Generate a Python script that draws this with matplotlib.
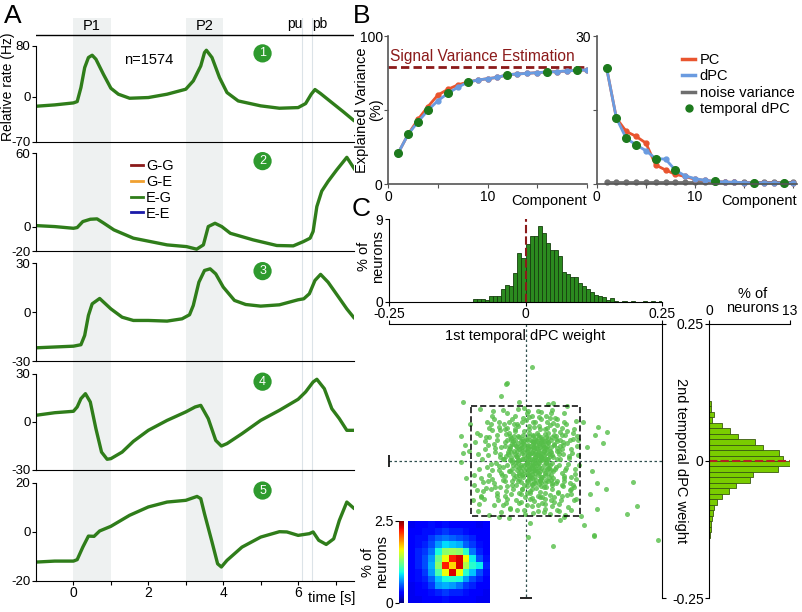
import numpy as np
import matplotlib
matplotlib.use("Agg")
from matplotlib import pyplot as plt
from matplotlib.lines import Line2D

plt.rcParams["font.family"] = ["Liberation Sans", "DejaVu Sans"]
plt.rcParams["font.size"] = 10

# ---------------- data: panel A (relative rate, Hz) ----------------
t1 = [-1, -0.5, 0, 0.1, 0.2, 0.3, 0.4, 0.5, 0.6, 0.8, 1.0, 1.2, 1.5, 2.0, 2.5, 3.0, 3.2, 3.4,
      3.5, 3.55, 3.7, 3.9, 4.1, 4.4, 5.0, 5.5, 6.0, 6.2, 6.35, 6.45, 6.6, 6.9, 7.2, 7.5]
r1 = [-14.6, -12.5, -9.4, -7.3, 14.6, 45.8, 61.5, 65.1, 58.9, 35.4, 13.5, 4.2, -2.1, -1.0, 4.2,
      12.0, 25.0, 48.4, 69.3, 72.9, 61.5, 30.2, 6.8, -6.3, -14.0, -17.7, -16.7, -10.4, 4.2, 11.5,
      5.2, -8.9, -22.9, -37.5]

t2 = [-1, -0.5, 0, 0.1, 0.25, 0.45, 0.63, 0.8, 1.08, 1.6, 2.5, 3.02, 3.29, 3.47, 3.6, 3.78,
      3.96, 4.19, 4.8, 5.43, 5.87, 6.14, 6.23, 6.32, 6.4, 6.5, 6.63, 6.8, 7.03, 7.3, 7.52]
r2 = [0.8, 0.0, -1.4, -0.8, 4.1, 6.0, 6.3, 3.0, -2.7, -9.5, -15.0, -16.4, -18.5, -15.0, 0.0,
      2.7, 0.0, -5.5, -10.9, -15.5, -15.8, -12.3, -10.9, -9.5, -4.0, 16.4, 29.0, 37.0, 46.4,
      56.7, 46.4]

t3 = [-1, 0, 0.2, 0.3, 0.4, 0.5, 0.7, 1.0, 1.3, 1.6, 2.0, 2.5, 2.9, 3.1, 3.2, 3.35, 3.5, 3.65,
      3.8, 4.0, 4.3, 4.6, 5.0, 5.5, 6.0, 6.15, 6.3, 6.45, 6.6, 6.8, 7.1, 7.3, 7.5]
r3 = [-21.9, -20.9, -20.0, -14.3, -2.0, 5.1, 8.4, 2.0, -3.1, -5.1, -5.1, -5.5, -4.1, -1.6, 4.1,
      18.4, 25.6, 26.6, 23.5, 15.4, 7.2, 4.7, 3.7, 4.5, 7.6, 8.2, 11.3, 19.5, 23.2, 18.4, 8.6,
      2.0, -3.7]

t4 = [-1, -0.5, 0, 0.1, 0.2, 0.32, 0.45, 0.6, 0.75, 0.9, 1.0, 1.3, 1.6, 2.0, 2.5, 3.0, 3.25,
      3.4, 3.6, 3.8, 3.95, 4.1, 4.5, 5.0, 5.5, 6.0, 6.2, 6.4, 6.5, 6.7, 6.9, 7.1, 7.3, 7.5]
r4 = [4.2, 5.8, 6.7, 9.4, 14.6, 17.7, 12.5, -4.2, -18.8, -23.3, -22.9, -18.8, -12.1, -5.2, 1.0,
      6.3, 9.4, 10.4, 2.1, -11.5, -15.0, -13.5, -7.3, 1.0, 7.3, 14.2, 18.8, 25.0, 26.7, 20.8,
      8.3, 2.1, -5.2, -5.2]

t5 = [-1, -0.5, 0, 0.1, 0.25, 0.4, 0.55, 0.7, 1.0, 1.5, 2.0, 2.5, 3.0, 3.3, 3.4, 3.5, 3.7,
      3.85, 3.95, 4.1, 4.5, 5.0, 5.5, 5.7, 6.0, 6.3, 6.4, 6.55, 6.75, 6.95, 7.1, 7.3, 7.5]
r5 = [-12.4, -12.0, -12.0, -11.4, -6.3, -1.8, -1.9, 0.3, 2.2, 6.7, 10.1, 12.1, 12.8, 14.4, 13.5,
      7.3, -4.2, -13.1, -14.4, -11.7, -6.3, -2.2, 0.0, -0.1, -1.5, -0.8, -0.1, -3.5, -5.2, -2.9,
      4.6, 12.1, 9.4]

traces = [(t1, r1), (t2, r2), (t3, r3), (t4, r4), (t5, r5)]
ylims = [(-70, 80), (-20, 60), (-30, 30), (-30, 30), (-20, 20)]
legend_conditions = ["G-G", "G-E", "E-G", "E-E"]
condition_colors = ["#8B1A1A", "#F0A030", "#2F7D1A", "#1A1AA8"]

# ---------------- data: panel B (explained variance, %) ----------------
components = list(range(1, 21))
pc_cum = [21.1, 33.7, 43.8, 52.4, 60.2, 64.0, 67.0, 68.9, 70.3, 71.2, 72.1, 73.9, 74.4, 74.8,
          75.3, 75.7, 76.0, 76.4, 76.9, 77.1]
dpc_cum = [21.1, 33.7, 42.2, 49.9, 56.4, 61.3, 65.4, 68.8, 70.3, 71.2, 72.1, 73.9, 74.4, 74.8,
           75.3, 75.7, 76.0, 76.4, 76.9, 77.1]
signal_variance = 79.3
pc_var = [23.6, 13.4, 10.7, 9.7, 8.35, 3.9, 2.9, 2.0, 1.6, 1.0, 0.8, 0.6, 0.45, 0.4, 0.35, 0.3,
          0.3, 0.25, 0.25, 0.2]
dpc_var = [23.6, 13.4, 9.3, 8.0, 6.8, 5.2, 5.1, 2.85, 1.7, 1.15, 0.8, 0.6, 0.45, 0.4, 0.35, 0.3,
           0.3, 0.25, 0.25, 0.2]
noise_var = [0.4, 0.4, 0.4, 0.4, 0.4, 0.4, 0.4, 0.4, 0.4, 0.4, 0.4, 0.4, 0.4, 0.4, 0.4, 0.4,
             0.4, 0.4, 0.4, 0.4]
temporal_components = [1, 2, 3, 4, 6, 8, 12, 16, 19]

# ---------------- data: panel C ----------------
hist1_centers = [-0.0925, -0.0851, -0.0777, -0.0703, -0.0629, -0.0555, -0.0481, -0.0407,
                 -0.0333, -0.0259, -0.0185, -0.0111, -0.0037, 0.0037, 0.0111, 0.0185, 0.0259,
                 0.0333, 0.0407, 0.0481, 0.0555, 0.0629, 0.0703, 0.0777, 0.0851, 0.0925,
                 0.0999, 0.1073, 0.1147, 0.1221, 0.1295, 0.1369, 0.1443, 0.1517, 0.1591,
                 0.1665, 0.1813, 0.1961, 0.2183, 0.2331, 0.2479]
hist1_pct = [0.33, 0.25, 0.3, 0.15, 0.58, 0.58, 0.58, 1.42, 1.82, 1.7, 3.17, 5.3, 4.74, 6.3,
             7.2, 7.2, 8.27, 7.54, 6.45, 5.65, 5.65, 5.0, 3.28, 3.0, 2.73, 2.66, 2.08, 1.71,
             1.35, 1.1, 0.73, 0.58, 0.47, 0.18, 0.4, 0.05, 0.05, 0.05, 0.05, 0.05, 0.08]

hist2_centers = [-0.135, -0.125, -0.115, -0.105, -0.095, -0.085, -0.075, -0.065, -0.055,
                 -0.045, -0.035, -0.025, -0.015, -0.005, 0.005, 0.015, 0.025, 0.035, 0.045,
                 0.055, 0.065, 0.075, 0.085, 0.095, 0.105]
hist2_pct = [0.1, 0.2, 0.3, 0.5, 0.6, 0.76, 1.2, 2.0, 3.1, 4.3, 6.6, 7.1, 11.1, 13.1, 11.9,
             11.3, 8.7, 7.4, 4.7, 3.3, 2.0, 0.5, 0.8, 0.25, 0.2]

# neuron weights (1st, 2nd temporal dPC)
w1 = [0.012, -0.021, 0.043, 0.005, -0.047, 0.067, 0.021, -0.008, 0.034, -0.029, 0.056, 0.002,
      -0.061, 0.079, 0.015, -0.013, 0.048, -0.036, 0.027, -0.003, 0.091, -0.074, 0.039, -0.018,
      0.062, 0.008, -0.052, 0.073, -0.024, 0.031, 0.011, -0.041, 0.084, -0.006, 0.052, -0.067,
      0.019, 0.036, -0.031, 0.002, 0.065, -0.085, 0.044, -0.015, 0.025, -0.057, 0.095, -0.002,
      0.058, -0.037, 0.016, -0.009, 0.038, -0.072, 0.071, 0.004, -0.026, 0.049, -0.045, 0.028,
      -0.011, 0.087, -0.093, 0.013, -0.033, 0.061, -0.019, 0.042, 0.023, -0.064, 0.076, -0.004,
      0.033, -0.049, 0.009, 0.054, -0.081, 0.098, -0.022, 0.018, 0.046, -0.039, 0.006, 0.069,
      -0.014, 0.031, -0.058, 0.081, -0.001, 0.024, -0.028, 0.059, -0.069, 0.014, 0.037, -0.043,
      0.089, -0.017, 0.051, -0.034, 0.003, 0.026, -0.053, 0.072, -0.007, 0.041, -0.077, 0.011,
      0.063, -0.025, 0.019, -0.046, 0.085, -0.012, 0.047, -0.062, 0.035, -0.002, 0.078, -0.088,
      0.007, 0.053, -0.031, 0.022, -0.019, 0.066, -0.042, 0.093, 0.012, -0.055, 0.029, -0.008,
      0.044, -0.071, 0.057, 0.001, -0.027, 0.074, 0.017, -0.037, 0.032, -0.016, 0.083, -0.079,
      0.039, -0.005, 0.061, -0.051, 0.024, -0.023, 0.068, 0.009, -0.066, 0.045, -0.009, 0.092,
      -0.044, 0.018, 0.055, -0.032, 0.004, 0.036, -0.086, 0.071, -0.014, 0.027, -0.059, 0.049,
      -0.003, 0.088, -0.021, 0.015, -0.048, 0.064, 0.041, -0.094, 0.006, 0.077, -0.038, 0.022,
      -0.011, 0.052, -0.063, 0.034, 0.097, -0.029, 0.013, -0.007, 0.058, -0.075, 0.037, -0.018,
      0.083, 0.001, 0.029, -0.053, 0.066, -0.035, 0.011, 0.046,
      -0.104, 0.112, -0.097, 0.118, 0.106, -0.101, 0.041, -0.012, 0.064, -0.031, 0.121, -0.109,
      0.128, -0.083, 0.009, 0.101, -0.067, 0.076, 0.131, -0.118,
      0.003, 0.017, -0.006, 0.024, 0.009, -0.013, 0.031, 0.002, 0.014, -0.019, 0.021, 0.038,
      -0.002, 0.006, 0.027, -0.024, 0.012, 0.033, -0.009, 0.019, 0.042, -0.016, 0.008, 0.026,
      -0.027, 0.016, 0.035, -0.004, 0.011, 0.023, -0.011, 0.039, 0.001, 0.029, -0.021, 0.014,
      0.044, -0.007, 0.018, 0.032, -0.033, 0.005, 0.025, -0.014, 0.047, 0.009, -0.001, 0.036,
      0.021, -0.018, 0.007, 0.028, 0.051, -0.029, 0.015, 0.041, -0.004, 0.024, 0.003, 0.057,
      0.012, -0.034, -0.044, -0.114, -0.111, -0.114, -0.119, -0.082, -0.087, -0.048, 0.005,
      0.05, 0.071, 0.108, 0.125, 0.131, 0.185, 0.148, 0.142, 0.133, 0.05, 0.197, 0.205, 0.243,
      0.15, 0.126, -0.035]
w2 = [0.004, 0.031, -0.012, -0.038, 0.008, 0.022, 0.052, -0.061, 0.018, -0.019, -0.041, 0.027,
      -0.033, 0.006, -0.017, 0.063, 0.044, 0.049, -0.066, 0.011, -0.024, 0.021, 0.071, -0.044,
      -0.007, 0.039, -0.058, 0.048, 0.002, -0.029, 0.083, -0.011, -0.052, -0.025, 0.031, 0.044,
      -0.049, 0.059, 0.072, -0.081, -0.071, -0.015, 0.009, 0.019, 0.033, -0.081, 0.027, 0.054,
      0.066, -0.037, -0.009, -0.007, -0.047, -0.049, -0.031, 0.091, 0.039, -0.083, 0.026, 0.007,
      -0.032, 0.041, 0.034, 0.047, -0.069, 0.012, 0.083, -0.021, -0.091, -0.005, -0.062, 0.033,
      0.037, 0.062, -0.054, 0.079, -0.063, -0.008, -0.052, 0.016, 0.026, 0.004, -0.014, 0.035,
      0.046, -0.076, 0.077, -0.041, -0.096, 0.064, -0.085, -0.056, 0.011, 0.072, -0.003, -0.026,
      0.058, 0.009, -0.031, 0.088, 0.018, -0.037, 0.039, -0.016, 0.071, 0.051, -0.038, -0.067,
      0.053, -0.002, 0.029, -0.047, 0.015, -0.077, 0.087, 0.056, -0.059, -0.043, -0.084, 0.052,
      0.059, -0.066, 0.021, -0.026, 0.054, -0.043, 0.093, -0.069, -0.031, 0.016, 0.076, -0.018,
      -0.097, 0.071, 0.004, 0.041, -0.061, 0.068, -0.004, 0.058, 0.023, -0.089, -0.029, 0.003,
      -0.014, 0.078, -0.092, -0.072, 0.044, 0.036, 0.029, -0.059, -0.025, 0.066, 0.024, 0.073,
      -0.093, -0.041, 0.041, 0.013, 0.006, -0.088, -0.079, 0.087, -0.036, 0.014, 0.092, -0.051,
      0.096, -0.047, 0.067, -0.073, -0.016, 0.003, 0.034, -0.044, -0.027, -0.005, 0.028, 0.092,
      0.001, -0.074, -0.052, 0.011, 0.039, 0.046, 0.035, -0.051, 0.019, 0.036, 0.082, -0.071,
      -0.089, -0.012, -0.045, 0.048, 0.061, -0.054, 0.014, -0.034,
      0.018, 0.026, -0.071, -0.061, 0.071, 0.067, 0.104, 0.107, -0.108, -0.104, -0.018, -0.031,
      0.047, 0.094, -0.113, -0.101, -0.099, 0.101, -0.041, 0.046,
      -0.002, 0.008, 0.015, -0.011, 0.022, -0.004, 0.002, -0.021, 0.031, 0.012, -0.019, 0.015,
      -0.008, 0.012, 0.025, -0.014, -0.024, -0.016, 0.029, 0.002, 0.004, 0.026, -0.033, 0.009,
      0.007, 0.021, -0.025, -0.029, 0.037, -0.003, -0.022, 0.027, 0.005, -0.033, 0.019, -0.012,
      -0.008, 0.041, 0.041, 0.029, -0.008, 0.029, -0.021, 0.032, 0.016, -0.007, 0.022, 0.006,
      0.013, -0.027, -0.017, 0.038, -0.019, 0.027, 0.001, -0.036, 0.004, 0.018, -0.046, 0.024,
      0.171, 0.142, 0.118, 0.108, 0.029, 0.014, -0.002, -0.066, -0.092, -0.103, -0.139,
      -0.155, -0.103, -0.117, -0.135, -0.087, -0.097, -0.051, 0.032, 0.062, 0.106, -0.039,
      -0.083, -0.145, 0.053, -0.136, 0.141]

# more neurons from the dense core of the cloud
w1_core = [0.013, -0.027, 0.048, -0.006, 0.071, 0.035, -0.044, 0.022, 0.006, -0.069, 0.059,
           0.016, -0.012, 0.083, -0.035, 0.041, 0.003, -0.054, 0.067, 0.029, -0.019, 0.051,
           -0.081, 0.009, 0.074, -0.039, 0.032, -0.003, 0.062, -0.062, 0.019, 0.044, -0.024,
           0.087, -0.009, 0.026, -0.047, 0.057, 0.011, -0.076, 0.038, 0.002, 0.069, -0.031,
           0.024, -0.058, 0.079, 0.014, -0.016, 0.047,
           -0.004, 0.061, -0.049, 0.028, 0.092, -0.022, 0.008, 0.053, -0.071, 0.036, -0.013,
           0.076, 0.019, -0.037, 0.042, -0.001, 0.066, -0.083, 0.027, 0.004, 0.055, -0.026,
           0.089, -0.053, 0.017, 0.034, -0.011, 0.071, -0.041, 0.022, 0.049, -0.066, 0.007,
           0.081, -0.029, 0.038, -0.007, 0.063, -0.089, 0.012, 0.045, -0.018, 0.096, -0.056,
           0.031, 0.001, 0.058, -0.033, 0.023, 0.073,
           0.004, 0.021, -0.011, 0.033, -0.003, 0.015, 0.028, -0.017, 0.039, 0.009, -0.024,
           0.046, 0.012, -0.008, 0.024, 0.035, -0.031, 0.002, 0.019, 0.042, -0.014, 0.027,
           0.007, -0.021, 0.037, 0.016, -0.006, 0.031, 0.049, -0.028, 0.011, 0.022, -0.002,
           0.043, 0.018, -0.036, 0.006, 0.029, -0.012, 0.034, 0.014, 0.051, -0.019, 0.003,
           0.025, -0.009, 0.039, 0.013, -0.025, 0.031,
           0.001, 0.023, 0.041, -0.007, 0.017, 0.034, -0.015, 0.008, 0.027, 0.052, -0.032,
           0.012, 0.038, -0.004, 0.019, 0.046, -0.023, 0.006, 0.029, 0.015, -0.011, 0.036,
           0.054, -0.038, 0.021, 0.009, 0.044, -0.017, 0.026, 0.002, 0.032, -0.029, 0.017,
           0.048, -0.005, 0.013, 0.037, -0.021, 0.024, 0.056, -0.042, 0.007, 0.033, 0.018,
           -0.013, 0.043, 0.004, 0.028, -0.034, 0.011,
           -0.061, 0.081, -0.046, 0.066, 0.015, -0.072, 0.091, 0.036, -0.055, 0.076, -0.008,
           0.058, -0.087, 0.047, 0.029, -0.037, 0.084, -0.064, 0.003, 0.069, -0.049, 0.053,
           -0.024, 0.087, -0.078, 0.039, 0.011, -0.058, 0.071, -0.015, 0.063, -0.095, 0.022,
           0.048, -0.042, 0.094, -0.069, 0.057, 0.006, -0.034]
w2_core = [-0.006, 0.042, 0.011, -0.052, -0.027, 0.049, -0.021, -0.081, 0.064, 0.029, -0.058,
           0.026, -0.013, 0.021, -0.076, -0.006, 0.087, -0.004, 0.047, -0.039, 0.058, 0.069,
           -0.031, -0.069, -0.012, 0.068, 0.004, -0.089, -0.079, 0.082, 0.039, -0.062, -0.043,
           0.052, 0.036, -0.056, 0.013, 0.036, -0.043, -0.069, 0.024, -0.004, -0.046, 0.052,
           0.081, -0.041, 0.009, -0.094, 0.007, -0.026,
           0.048, 0.018, 0.072, -0.013, -0.033, -0.024, 0.013, 0.057, -0.011, -0.069, 0.094,
           0.033, -0.035, 0.034, 0.042, -0.066, -0.064, 0.047, 0.058, -0.023, -0.011, 0.016,
           -0.072, -0.063, 0.071, -0.093, -0.058, 0.071, 0.003, 0.003, -0.044, 0.061, 0.045,
           -0.053, -0.087, 0.036, 0.026, 0.027, -0.053, -0.051, 0.078, -0.009, 0.011, 0.024,
           -0.065, 0.074, -0.037, -0.046, 0.048, -0.098,
           0.009, -0.008, 0.021, 0.019, -0.017, 0.034, -0.029, -0.001, 0.003, -0.026, 0.031,
           -0.017, 0.017, -0.039, 0.029, -0.041, -0.018, 0.038, -0.014, 0.033, 0.011, 0.001,
           -0.011, -0.031, 0.044, -0.038, 0.004, 0.012, -0.003, 0.024, -0.019, 0.022, 0.031,
           -0.029, 0.007, 0.009, -0.031, 0.034, -0.025, -0.007, 0.046, 0.008, 0.039, 0.016,
           -0.042, -0.011, 0.021, -0.001, -0.037, 0.041,
           -0.006, 0.011, -0.012, 0.019, -0.022, 0.026, -0.016, 0.028, -0.018, 0.029, 0.017,
           -0.042, -0.035, 0.036, 0.024, 0.039, -0.008, -0.001, 0.006, -0.029, 0.043, -0.021,
           -0.014, -0.027, 0.036, 0.003, 0.019, 0.028, -0.034, -0.036, 0.031, 0.001, 0.013,
           -0.041, -0.024, 0.026, -0.002, 0.045, -0.004, 0.045, -0.034, 0.051, -0.048, -0.017,
           0.002, 0.012, 0.023, 0.043, 0.038, -0.009,
           -0.017, 0.038, 0.057, -0.021, 0.062, 0.043, -0.014, -0.079, -0.048, 0.054, -0.074,
           0.076, 0.012, -0.071, 0.089, -0.063, -0.061, 0.068, -0.059, 0.012, -0.009, 0.047,
           0.077, -0.044, -0.054, 0.061, -0.082, 0.031, -0.037, 0.067, 0.039, -0.025, -0.064,
           0.093, -0.081, 0.046, -0.036, -0.089, 0.081, 0.061]

# inset: 2D histogram of the two weights (% of neurons), top row = high 2nd weight
heat_pct = [
    [0.25, 0.30, 0.30, 0.35, 0.30, 0.35, 0.30, 0.30, 0.30, 0.30, 0.25, 0.30],
    [0.30, 0.30, 0.35, 0.35, 0.40, 0.45, 0.40, 0.40, 0.35, 0.30, 0.30, 0.30],
    [0.30, 0.35, 0.35, 0.45, 0.55, 0.60, 0.55, 0.50, 0.45, 0.40, 0.30, 0.30],
    [0.30, 0.35, 0.40, 0.50, 0.70, 0.85, 0.80, 0.75, 0.55, 0.45, 0.35, 0.30],
    [0.30, 0.40, 0.45, 0.60, 0.95, 1.30, 1.35, 1.30, 1.00, 0.60, 0.40, 0.30],
    [0.30, 0.40, 0.50, 0.70, 1.20, 1.60, 2.20, 2.30, 1.60, 0.90, 0.50, 0.35],
    [0.30, 0.40, 0.50, 0.75, 1.30, 2.20, 1.70, 2.30, 1.40, 1.00, 0.90, 0.40],
    [0.30, 0.35, 0.45, 0.70, 1.10, 1.60, 2.30, 1.60, 1.00, 0.80, 0.50, 0.35],
    [0.30, 0.35, 0.40, 0.55, 0.80, 0.95, 1.00, 0.95, 0.70, 0.50, 0.40, 0.30],
    [0.25, 0.30, 0.35, 0.45, 0.70, 0.75, 0.70, 0.60, 0.45, 0.40, 0.30, 0.30],
    [0.25, 0.30, 0.30, 0.35, 0.40, 0.45, 0.40, 0.40, 0.35, 0.30, 0.30, 0.25],
    [0.25, 0.25, 0.30, 0.30, 0.30, 0.35, 0.30, 0.30, 0.30, 0.30, 0.25, 0.25],
]

# ---------------- figure ----------------
W, H = 802, 612
fig = plt.figure(figsize=(W / 100, H / 100), dpi=100)


def px_axes(x0, y0, x1, y1):
    return fig.add_axes([x0 / W, 1 - y1 / H, (x1 - x0) / W, (y1 - y0) / H])


def px_text(x, y, s, **kw):
    fig.text(x / W, 1 - y / H, s, **kw)


green = "#2F7D1A"

# panel A background: stimulus shading, markers
bg = px_axes(36, 18, 354.3, 581)
bg.set_xlim(-1, 7.5)
bg.set_ylim(18, 581)
bg.invert_yaxis()
bg.axis("off")
bg.axvspan(0, 1, color="#EEF1F1", lw=0)
bg.axvspan(3, 4, color="#EEF1F1", lw=0)
bg.axvline(6.11, color="#DCE3E8", lw=0.8)
bg.axvline(6.38, color="#DCE3E8", lw=0.8)
bg.axhline(35.3, color="k", lw=1)
bg.text(0.5, 26, "P1", ha="center", va="center", fontsize=10.5)
bg.text(3.5, 26, "P2", ha="center", va="center", fontsize=10.5)
bg.text(5.92, 24, "pu", ha="center", va="center", fontsize=10)
bg.text(6.57, 24, "pb", ha="center", va="center", fontsize=10)

panel_px = [(45.7, 141.7), (153.3, 251), (263.3, 361), (374, 470), (482.7, 580.7)]
axes_A = []
for i, ((ts, rs), (lo, hi), (top, bot)) in enumerate(zip(traces, ylims, panel_px)):
    ax = px_axes(36, top, 354.3, bot)
    ax.set_facecolor("none")
    ax.plot(ts, rs, color=green, lw=2.4, solid_capstyle="round", solid_joinstyle="round")
    ax.set_xlim(-1, 7.5)
    ax.set_ylim(lo, hi)
    for s in ["top", "right"]:
        ax.spines[s].set_visible(False)
    ax.spines["left"].set_linewidth(0.8)
    ax.spines["bottom"].set_linewidth(0.8)
    ax.set_yticks([lo, 0, hi])
    ax.set_yticklabels([str(lo), "0", str(hi)])
    ax.tick_params(axis="y", direction="out", length=3, width=0.8, labelsize=9.5, pad=1)
    if i < 4:
        ax.set_xticks([])
    else:
        ax.set_xticks([0, 1, 2, 3, 4, 5, 6, 7])
        ax.set_xticklabels(["0", "", "2", "", "4", "", "6", ""])
        ax.tick_params(axis="x", direction="out", length=3, width=0.8, labelsize=10, pad=1)
    ax.text(5.05, 0.92, str(i + 1), transform=ax.get_xaxis_transform(), ha="center",
            va="center", color="white", fontsize=9,
            bbox=dict(boxstyle="circle,pad=0.25", fc="#2E9A2E", ec="none"))
    axes_A.append(ax)

axes_A[0].text(2.0, 57, "n=1574", ha="center", va="center", fontsize=10.5)
handles = [Line2D([], [], color=c, lw=2) for c in condition_colors]
axes_A[1].legend(handles, legend_conditions, loc="upper left", bbox_to_anchor=(124 / W, 1 - 152 / H),
                 bbox_transform=fig.transFigure, frameon=False, handlelength=0.8,
                 handletextpad=0.2, labelspacing=0.12, borderpad=0, fontsize=10.5)
px_text(8, 87, "Relative rate (Hz)", rotation=90, ha="center", va="center", fontsize=10)
px_text(355, 598, "time [s]", ha="right", va="center", fontsize=10.5)

# ---------------- panel B ----------------
c_pc, c_dpc, c_noise, c_tmp = "#E9552F", "#6A9BE0", "#6E6E6E", "#1D7A1D"
tmp_cum = [dpc_cum[c - 1] for c in temporal_components]
tmp_var = [dpc_var[c - 1] for c in temporal_components]

b1 = px_axes(388.3, 36, 586.7, 184.3)
b1.axhline(signal_variance, color="#8B1A1A", lw=2, ls=(0, (3, 1.5)))
b1.text(0.2, signal_variance + 1.5, "Signal Variance Estimation", color="#8B1A1A", fontsize=11.2,
        va="bottom")
b1.plot(components, pc_cum, color=c_pc, lw=2, marker="o", ms=3.5)
b1.plot(components, dpc_cum, color=c_dpc, lw=2, marker="o", ms=3.5)
b1.plot(temporal_components, tmp_cum, ls="none", marker="o", ms=5.5, color=c_tmp)
b1.set_xlim(0, 20)
b1.set_ylim(0, 100)
b1.set_xticks([0, 5, 10, 15, 20])
b1.set_xticklabels(["0", "", "10", "", ""])
b1.set_yticks([0, 50, 100])
b1.set_yticklabels(["0", "", "100"])

b2 = px_axes(596.7, 36, 797, 184.3)
b2.plot(components, noise_var, color=c_noise, lw=2, marker="o", ms=3.5, clip_on=False)
b2.plot(components, pc_var, color=c_pc, lw=2, marker="o", ms=3.5, clip_on=False)
b2.plot(components, dpc_var, color=c_dpc, lw=2, marker="o", ms=3.5, clip_on=False)
b2.plot(temporal_components, tmp_var, ls="none", marker="o", ms=5.5, color=c_tmp, clip_on=False)
b2.set_xlim(0, 20.37)
b2.set_ylim(0, 30)
b2.set_xticks([0, 5, 10, 15, 20])
b2.set_xticklabels(["0", "", "10", "", ""])
b2.set_yticks([0, 15, 30])
b2.set_yticklabels(["", "", "30"])

for ax in (b1, b2):
    for s in ["top", "right"]:
        ax.spines[s].set_visible(False)
    for s in ["left", "bottom"]:
        ax.spines[s].set_color("#555555")
        ax.spines[s].set_linewidth(1.2)
    ax.tick_params(direction="out", length=3, width=0.8, labelsize=10, pad=1, color="#555555")

px_text(369, 110, "Explained Variance\n(%)", rotation=90, ha="center", va="center",
        fontsize=10.5, linespacing=0.95)
px_text(587, 201, "Component", ha="right", va="center", fontsize=10.5)
px_text(797, 201, "Component", ha="right", va="center", fontsize=10.5)

leg_handles = [Line2D([], [], color=c_pc, lw=2.5), Line2D([], [], color=c_dpc, lw=2.5),
               Line2D([], [], color=c_noise, lw=2.5),
               Line2D([], [], color=c_tmp, ls="none", marker="o", ms=5)]
fig.legend(leg_handles, ["PC", "dPC", "noise variance", "temporal dPC"], loc="upper left",
           bbox_to_anchor=(675 / W, 1 - 46 / H), frameon=False, handlelength=0.9,
           handletextpad=0.3, labelspacing=0.15, borderpad=0, fontsize=10.5)

# ---------------- panel C ----------------
h1 = px_axes(389, 219.3, 662, 301.7)
h1.bar(hist1_centers, hist1_pct, width=0.0074, color="#2B8A1F", edgecolor="#163F0E", lw=0.6)
h1.plot([0, 0], [0, 9], color="#8B1A1A", lw=1.5, ls=(0, (4, 1.5)))
h1.set_xlim(-0.25, 0.25)
h1.set_ylim(0, 9)
h1.set_xticks([-0.25, 0, 0.25])
h1.set_xticklabels(["-0.25", "0", "0.25"])
h1.set_yticks([0, 9])
h1.set_yticklabels(["0", "9"])
for s in ["top", "right"]:
    h1.spines[s].set_visible(False)
h1.tick_params(direction="out", length=3, width=0.8, labelsize=10, pad=1)
px_text(371, 256, "% of\nneurons", rotation=90, ha="center", va="center", fontsize=10.5,
        linespacing=0.95)

sc = px_axes(389, 324, 662, 598)
sc.scatter(w1 + w1_core, w2 + w2_core, s=13, color="#55BE48", alpha=0.8, lw=0, zorder=2)
sc.plot([0, 0], [0.25, -0.25], color="#2F4F4F", lw=0.9, ls=(0, (2, 2)), zorder=1)
sc.plot([-0.25, 0.25], [0, 0], color="#2F4F4F", lw=0.9, ls=(0, (2, 2)), zorder=1)
sc.plot([0], [-0.25], marker="_", ms=9, color="k", mew=1.2, clip_on=False)
sc.plot([-0.25], [0], marker="|", ms=9, color="k", mew=1.2, clip_on=False)
sc.plot([-0.1, 0.1, 0.1, -0.1, -0.1], [0.1, 0.1, -0.1, -0.1, 0.1], color="k", lw=1.1,
        ls=(0, (4, 2)), zorder=3)
sc.set_xlim(-0.25, 0.25)
sc.set_ylim(-0.25, 0.25)
sc.spines["left"].set_visible(False)
sc.spines["bottom"].set_visible(False)
sc.xaxis.tick_top()
sc.set_xticks([-0.25, 0.25])
sc.set_xticklabels([])
sc.yaxis.tick_right()
sc.set_yticks([-0.25, 0.25])
sc.set_yticklabels([])
sc.tick_params(direction="out", length=3, width=0.8)
sc.text(0, 0.956, "1st temporal dPC weight", transform=sc.get_xaxis_transform(), ha="center",
        va="center", fontsize=10.5)
px_text(681, 461, "2nd temporal dPC weight", rotation=270, ha="center", va="center",
        fontsize=10.5)

h2 = px_axes(709.3, 324, 790, 598)
h2.barh(hist2_centers, hist2_pct, height=0.01, color="#7ACC00", edgecolor="#3A5A10", lw=0.6)
h2.plot([0, 13], [0, 0], color="#B22222", lw=1.5, ls=(0, (4, 1.5)))
h2.set_xlim(0, 13)
h2.set_ylim(-0.25, 0.25)
h2.spines["right"].set_visible(False)
h2.spines["bottom"].set_visible(False)
h2.xaxis.tick_top()
h2.set_xticks([0, 13])
h2.set_xticklabels(["0", "13"])
h2.set_yticks([-0.25, 0, 0.25])
h2.set_yticklabels(["-0.25", "0", "0.25"])
h2.tick_params(direction="out", length=3, width=0.8, labelsize=10, pad=1)
px_text(753, 301, "% of\nneurons", ha="center", va="center", fontsize=10.5, linespacing=0.95)

hm = px_axes(407.7, 520.7, 489, 602.7)
im = hm.imshow(heat_pct, cmap="jet", vmin=0, vmax=2.5, aspect="auto", interpolation="nearest")
hm.set_xticks([])
hm.set_yticks([])
for s in hm.spines.values():
    s.set_visible(False)
cax = px_axes(399, 520.7, 404, 602.7)
cb = fig.colorbar(im, cax=cax)
cb.outline.set_visible(False)
cax.yaxis.set_ticks_position("left")
cb.set_ticks([0, 2.5])
cb.set_ticklabels(["0", "2.5"])
cax.tick_params(length=3, width=0.8, labelsize=10, pad=1)
px_text(375, 562, "% of\nneurons", rotation=90, ha="center", va="center", fontsize=10.5,
        linespacing=0.95)

# panel letters
px_text(12.5, 16, "A", ha="center", va="center", fontsize=19)
px_text(361.5, 16, "B", ha="center", va="center", fontsize=19)
px_text(361, 209, "C", ha="center", va="center", fontsize=19)

fig.savefig("out.png", dpi=100)
